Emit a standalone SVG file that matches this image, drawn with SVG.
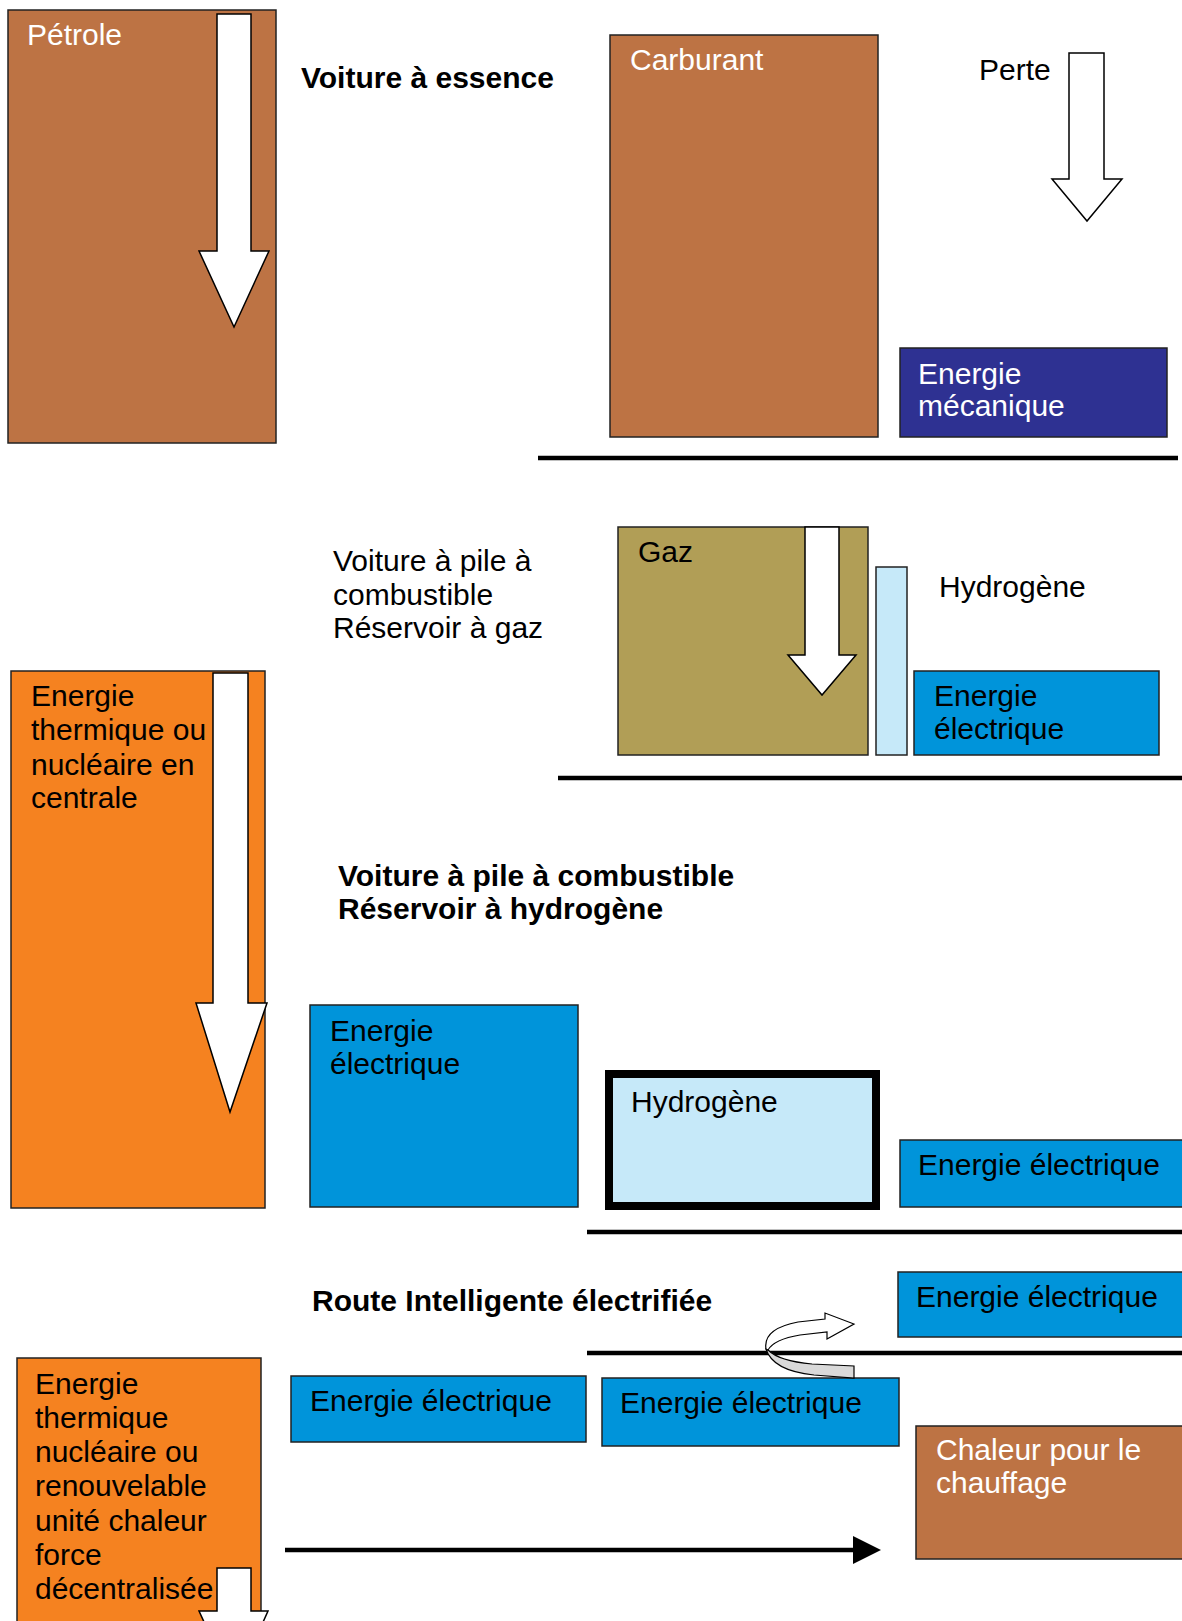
<svg xmlns="http://www.w3.org/2000/svg" width="1182" height="1621" viewBox="0 0 1182 1621">
<style>
text{font-family:"Liberation Sans",Arial,sans-serif;font-size:30px;fill:#000}
.w{fill:#fff}
.b{font-weight:bold}
.box{stroke:#222;stroke-width:1.5}
.brown{fill:#BD7344}
.navy{fill:#2E3192}
.blue{fill:#0094DA}
.light{fill:#C6E9F9}
.olive{fill:#B19E56}
.orange{fill:#F58220}
.rule{stroke:#000;stroke-width:4.5}
.blk{fill:#fff;stroke:#000;stroke-width:1.5;stroke-linejoin:miter}
</style>
<defs>
<marker id="ah" markerWidth="8" markerHeight="8" refX="0" refY="4" orient="auto" markerUnits="userSpaceOnUse" viewBox="0 0 8 8">
<path d="M0,0 L8,4 L0,8 z" fill="#000"/>
</marker>
</defs>
<rect width="1182" height="1621" fill="#fff"/>

<g id="petrole"><rect class="box brown" x="8" y="10" width="268" height="433"/><text class="w" x="27" y="45">Pétrole</text></g>
<g id="titre-essence"><text class="b" x="301" y="88">Voiture à essence</text></g>
<g id="carburant"><rect class="box brown" x="610" y="35" width="268" height="402"/><text class="w" x="630" y="70">Carburant</text></g>
<g id="perte"><text x="979" y="80">Perte</text></g>
<g id="energie-mecanique"><rect class="box navy" x="900" y="348" width="267" height="89"/><text class="w" x="918" y="384">Energie</text><text class="w" x="918" y="416">mécanique</text></g>

<g id="titre-gaz"><text x="333" y="571">Voiture à pile à</text><text x="333" y="605">combustible</text><text x="333" y="638">Réservoir à gaz</text></g>
<g id="gaz"><rect class="box olive" x="618" y="527" width="250" height="228"/><text x="638" y="562">Gaz</text></g>
<g id="hydrogene-barre"><rect class="box light" x="876" y="567" width="31" height="188"/></g>
<g id="hydrogene-label"><text x="939" y="597">Hydrogène</text></g>
<g id="energie-electrique-1"><rect class="box blue" x="914" y="671" width="245" height="84"/><text x="934" y="706">Energie</text><text x="934" y="739">électrique</text></g>

<g id="centrale"><rect class="box orange" x="11" y="671" width="254" height="537"/><text x="31" y="706">Energie</text><text x="31" y="740">thermique ou</text><text x="31" y="775">nucléaire en</text><text x="31" y="808">centrale</text></g>
<g id="titre-hydrogene"><text class="b" x="338" y="886">Voiture à pile à combustible</text><text class="b" x="338" y="919">Réservoir à hydrogène</text></g>
<g id="energie-electrique-2"><rect class="box blue" x="310" y="1005" width="268" height="202"/><text x="330" y="1041">Energie</text><text x="330" y="1074">électrique</text></g>
<g id="hydrogene-reservoir"><rect class="light" x="609" y="1074" width="267" height="132" stroke="#000" stroke-width="8"/><text x="631" y="1112">Hydrogène</text></g>
<g id="energie-electrique-3"><rect class="box blue" x="900" y="1140" width="284" height="67"/><text x="918" y="1175">Energie électrique</text></g>

<g id="titre-route"><text class="b" x="312" y="1311">Route Intelligente électrifiée</text></g>
<g id="energie-electrique-4"><rect class="box blue" x="898" y="1272" width="286" height="65"/><text x="916" y="1307">Energie électrique</text></g>
<g id="energie-electrique-5"><rect class="box blue" x="291" y="1376" width="295" height="66"/><text x="310" y="1411">Energie électrique</text></g>
<g id="energie-electrique-6"><rect class="box blue" x="602" y="1378" width="297" height="68"/><text x="620" y="1413">Energie électrique</text></g>
<g id="chaleur"><rect class="box brown" x="916" y="1426" width="268" height="133"/><text class="w" x="936" y="1460">Chaleur pour le</text><text class="w" x="936" y="1493">chauffage</text></g>
<g id="decentralisee"><rect class="box orange" x="17" y="1358" width="244" height="270"/><text x="35" y="1394">Energie</text><text x="35" y="1428">thermique</text><text x="35" y="1462">nucléaire ou</text><text x="35" y="1496">renouvelable</text><text x="35" y="1531">unité chaleur</text><text x="35" y="1565">force</text><text x="35" y="1599">décentralisée</text></g>

<g id="connectors">
<line class="rule" x1="538" y1="458" x2="1178" y2="458"/>
<line class="rule" x1="558" y1="778" x2="1182" y2="778"/>
<line class="rule" x1="587" y1="1232" x2="1182" y2="1232"/>
<line class="rule" x1="587" y1="1353" x2="1182" y2="1353"/>
<polygon class="blk" points="217,14 251,14 251,251 269,251 234,327 199,251 217,251"/>
<polygon class="blk" points="1069,53 1104,53 1104,179 1122,179 1087,221 1052,179 1069,179"/>
<polygon class="blk" points="805,527 839,527 839,655 856,655 822,695 788,655 805,655"/>
<polygon class="blk" points="213,673 248,673 248,1003 267,1003 230,1112 196,1003 213,1003"/>
<polygon class="blk" points="217,1568 251,1568 251,1611 268,1611 234,1687 199,1611 217,1611"/>
<path d="M766,1349 C770,1362 785,1372 814,1375 L854,1378 L854,1366 L812,1364 C790,1362 775,1357 768,1350 Z" fill="#D9D9D9" stroke="#000" stroke-width="1.2"/>
<path d="M766,1349 C764,1337 772,1327 798,1322 L825,1319 L825,1313 L854,1324 L827,1339 L827,1332 L800,1335 C782,1338 772,1343 768,1350 Z" fill="#fff" stroke="#000" stroke-width="1.2"/>
<line x1="285" y1="1550" x2="854" y2="1550" stroke="#000" stroke-width="4.5" marker-end="url(#ah)"/>
<polygon points="853,1536 881,1550 853,1564" fill="#000"/>
</g>
</svg>
